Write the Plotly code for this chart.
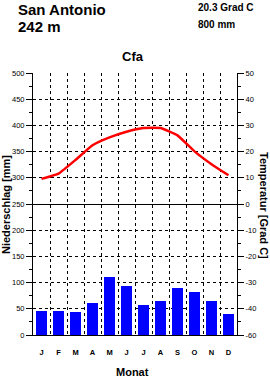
import plotly.graph_objects as go

months = ["J", "F", "M", "A", "M", "J", "J", "A", "S", "O", "N", "D"]
precip_mm = [45, 45, 43, 61, 111, 94, 57, 65, 90, 83, 65, 41]
temp_c = [9.6, 11.6, 16.8, 22.4, 25.4, 27.6, 29.0, 29.0, 26.2, 20.1, 15.2, 11.0]
left_ticks = [0, 50, 100, 150, 200, 250, 300, 350, 400, 450, 500]
right_tickvals = [-50, -40, -30, -20, -10, 0, 10, 20, 30, 40, 50]
right_ticktext = ["-60", "-40", "-30", "-20", "-10", "0", "10", "20", "30", "40", "50"]

W, H = 270, 378
L, R, T, B = 33, 33, 73, 43
PW, PH = W - L - R, H - T - B

def px(x):
    return (x - L) / PW

def py(y):
    return (H - B - y) / PH

xs = list(range(1, 13))
fig = go.Figure()
fig.add_trace(go.Bar(x=xs, y=precip_mm, marker=dict(color="#0000FF", line=dict(width=0)),
                     width=0.65, yaxis="y"))
fig.add_trace(go.Scatter(x=xs, y=temp_c, mode="lines",
                         line=dict(color="#FF0000", width=2.5, shape="spline", smoothing=0.35),
                         yaxis="y2"))

font = "Liberation Sans, Arial, sans-serif"
tickfont = dict(size=7.5, family="Liberation Sans Narrow, Liberation Sans, Arial", color="black")
fig.update_layout(
    width=W, height=H,
    margin=dict(l=L, r=R, t=T, b=B, pad=0),
    plot_bgcolor="white", paper_bgcolor="white",
    showlegend=False,
    bargap=0,
    font=dict(family=font, color="black"),
    xaxis=dict(range=[0.5, 12.5], tickvals=xs, ticktext=months, showgrid=False,
               ticks="", ticklabelstandoff=10, tickfont=dict(size=7.5, family="Liberation Sans", weight="bold"),
               showline=True, linecolor="black", linewidth=1, zeroline=False,
               minor=dict(tickvals=[i + 0.5 for i in range(1, 12)], showgrid=True, gridcolor="black",
                          griddash="dot", gridwidth=1, ticks="")),
    yaxis=dict(range=[0, 500], tickvals=left_ticks, showgrid=True, gridcolor="black", griddash="dot",
               gridwidth=1, ticks="outside", ticklen=6, tickcolor="black", tickfont=tickfont,
               showline=True, linecolor="black", linewidth=1, zeroline=False,
               minor=dict(dtick=25, ticks="outside", ticklen=3, tickcolor="black", showgrid=False)),
    yaxis2=dict(range=[-50, 50], overlaying="y", side="right", tickvals=right_tickvals,
                ticktext=right_ticktext, showgrid=False, ticks="outside", ticklen=6, tickcolor="black",
                tickfont=tickfont, showline=True, linecolor="black", linewidth=1, zeroline=True,
                zerolinecolor="black", zerolinewidth=1,
                minor=dict(dtick=5, ticks="outside", ticklen=3, tickcolor="black", showgrid=False)),
)

def ann(text, x, y, size, xanchor="left", yanchor="top", angle=0, bold=True):
    fig.add_annotation(text=text, x=px(x), y=py(y), xref="paper", yref="paper", showarrow=False,
                       xanchor=xanchor, yanchor=yanchor, textangle=angle,
                       font=dict(size=size, family=font, color="black", weight="bold" if bold else "normal"))

ann("San Antonio", 16, -1, 15)
ann("242 m", 16, 16, 15)
ann("20.3 Grad C", 196, 0, 10)
ann("800 mm", 196, 17, 10)
ann("Cfa", 133, 57, 13, xanchor="center", yanchor="middle")
ann("Niederschlag [mm]", 6, 205, 11, xanchor="center", yanchor="middle", angle=-90)
ann("Temperatur [Grad C]", 264, 205, 11, xanchor="center", yanchor="middle", angle=90)
ann("Monat", 132, 372, 11, xanchor="center", yanchor="middle")

fig.write_html("out.html")
